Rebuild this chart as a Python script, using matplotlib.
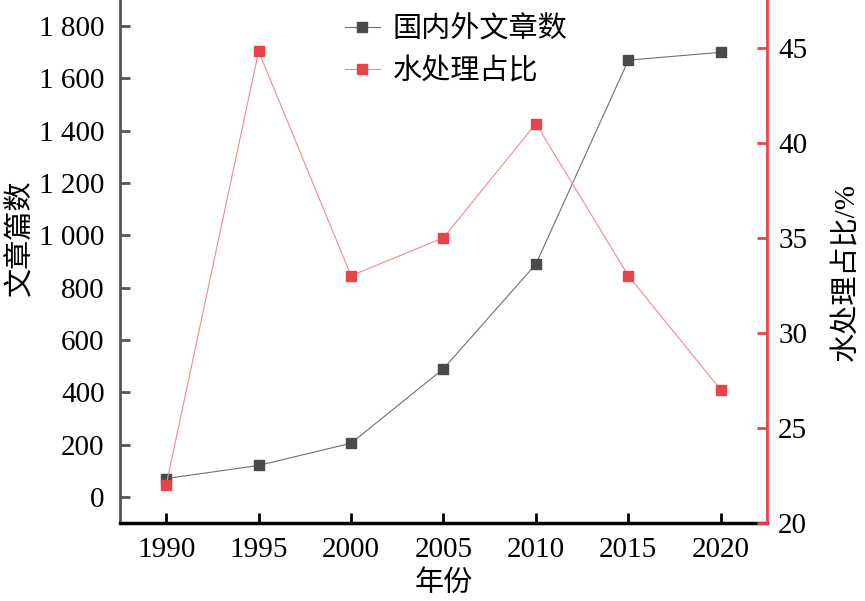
import matplotlib
matplotlib.use('Agg')
import matplotlib.pyplot as plt
from matplotlib.ticker import FuncFormatter

plt.rcParams['font.family'] = ['Liberation Serif', 'Noto Sans CJK SC']
plt.rcParams['axes.unicode_minus'] = False

years = [1990, 1995, 2000, 2005, 2010, 2015, 2020]
papers = [70, 120, 205, 490, 890, 1670, 1700]
water_share = [22, 44.8, 33, 35, 41, 33, 27]

DARK = '#4a4a4a'
RED = '#e8434b'
FS = 21

fig = plt.figure(figsize=(8.65, 6.01), dpi=100)
ax = fig.add_axes([0.1387, 0.1298, 0.7480, 0.8702])
ax2 = ax.twinx()

l1, = ax.plot(years, papers, color='#707070', lw=0.8, marker='s', ms=7.5,
              mfc=DARK, mec=DARK, label='国内外文章数', zorder=3)
l2, = ax2.plot(years, water_share, color='#f28a90', lw=0.8, marker='s', ms=7.5,
               mfc=RED, mec=RED, label='水处理占比', zorder=3)

ax.set_xlim(1987.5, 2022.5)
ax.set_ylim(-100, 1900)
ax2.set_ylim(20, 47.5)
ax.set_xticks(years)
ax.set_yticks(range(0, 1801, 200))
ax.yaxis.set_major_formatter(FuncFormatter(lambda v, p: f'{int(v):,}'.replace(',', ' ')))
ax2.set_yticks(range(20, 46, 5))

for a in (ax, ax2):
    a.spines['top'].set_visible(False)
ax.spines['right'].set_visible(False)
ax.spines['left'].set_color('#555555')
ax.spines['left'].set_linewidth(2)
ax.spines['bottom'].set_color('black')
ax.spines['bottom'].set_linewidth(2.5)
ax2.spines['left'].set_visible(False)
ax2.spines['bottom'].set_visible(False)
ax2.spines['right'].set_color(RED)
ax2.spines['right'].set_linewidth(2)

ax.tick_params(axis='y', direction='in', length=7, width=2, color='#555555',
               labelsize=FS, pad=11)
ax.tick_params(axis='x', direction='in', length=7, width=2, color='black',
               labelsize=FS, pad=10)
ax2.tick_params(axis='y', direction='in', length=7, width=2, color=RED,
                labelsize=FS, pad=8)

ax.set_xlabel('年份', fontsize=FS, labelpad=5)
ax.set_ylabel('文章篇数', fontsize=FS)
ax.yaxis.set_label_coords(-0.133, 0.545)
ax2.set_ylabel('水处理占比/%', fontsize=FS)
ax2.yaxis.set_label_coords(1.102, 0.48)

fig.legend(handles=[l1, l2], loc='upper left', bbox_to_anchor=(0.38, 1.0),
           frameon=False, fontsize=FS, handlelength=1.2, handletextpad=0.45,
           labelspacing=0.5, borderaxespad=0.15)

fig.savefig('out.png', dpi=100)
